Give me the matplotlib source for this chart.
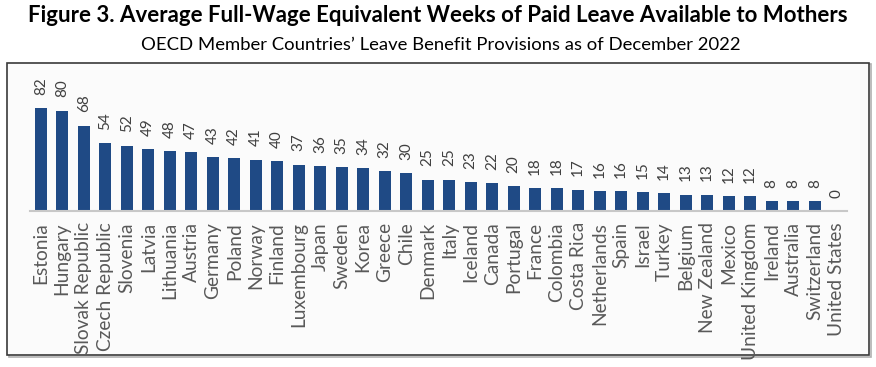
import matplotlib.pyplot as plt
from matplotlib.patches import Rectangle

countries = ["Estonia", "Hungary", "Slovak Republic", "Czech Republic", "Slovenia",
             "Latvia", "Lithuania", "Austria", "Germany", "Poland", "Norway",
             "Finland", "Luxembourg", "Japan", "Sweden", "Korea", "Greece", "Chile",
             "Denmark", "Italy", "Iceland", "Canada", "Portugal", "France",
             "Colombia", "Costa Rica", "Netherlands", "Spain", "Israel", "Turkey",
             "Belgium", "New Zealand", "Mexico", "United Kingdom", "Ireland",
             "Australia", "Switzerland", "United States"]
weeks = [82, 80, 68, 54, 52, 49, 48, 47, 43, 42, 41, 40, 37, 36, 35, 34, 32, 30,
         25, 25, 23, 22, 20, 18, 18, 17, 16, 16, 15, 14, 13, 13, 12, 12, 8, 8, 8, 0]

plt.rcParams['font.family'] = ['Lato', 'DejaVu Sans']

fig = plt.figure(figsize=(8.76, 3.67), dpi=100)
fig.patch.set_facecolor('white')

# chart frame with a light shadow
W, H = 876, 367
fig.patches.append(Rectangle((9 / W, 1 - 357 / H), 862 / W, 293 / H, transform=fig.transFigure,
                             facecolor='none', edgecolor='#b0b0b0', linewidth=1.2, zorder=-2))
fig.patches.append(Rectangle((7 / W, 1 - 355 / H), 862 / W, 292 / H, transform=fig.transFigure,
                             facecolor='#fbfbfb', edgecolor='#3a3a3a', linewidth=1.2, zorder=-1))

fig.text(0.5, 1 - 16 / H, "Figure 3. Average Full-Wage Equivalent Weeks of Paid Leave Available to Mothers",
         ha='center', va='center', fontsize=16, fontweight='bold', color='black')
fig.text(441 / W, 1 - 45 / H, "OECD Member Countries\u2019 Leave Benefit Provisions as of December 2022",
         ha='center', va='center', fontsize=13.3, color='black')

ax = fig.add_axes([30 / W, 1 - 211 / H, 817 / W, 125.6 / H])
ax.set_facecolor('none')
x = range(len(countries))
bars = ax.bar(x, weeks, width=0.56, color='#1f4a85')
ax.set_xlim(-0.5, len(countries) - 0.5)
ax.set_ylim(0, 100)

for xi, v in zip(x, weeks):
    ax.annotate(str(v), (xi, v), xytext=(0, 9.5), textcoords='offset points',
                rotation=90, ha='center', va='bottom', fontsize=11, color='#404040')

ax.set_xticks(list(x))
ax.set_xticklabels(countries, rotation=90, fontsize=13.8, color='#595959')
ax.tick_params(axis='x', length=0, pad=8)
ax.set_yticks([])
for s in ['top', 'left', 'right']:
    ax.spines[s].set_visible(False)
ax.spines['bottom'].set_color('#c8c8c8')
ax.spines['bottom'].set_linewidth(1.5)

fig.savefig('out.png', dpi=100)
